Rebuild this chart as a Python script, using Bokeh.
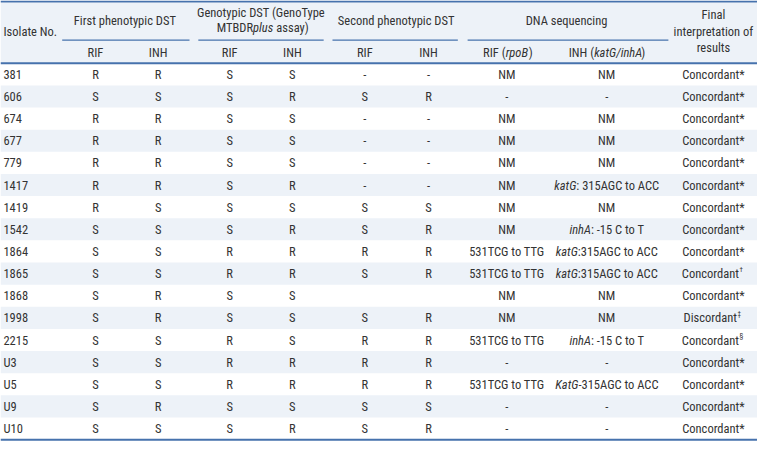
from bokeh.plotting import figure
from bokeh.models import Range1d, ColumnDataSource
from bokeh.core.properties import value
from bokeh.embed import file_html
from bokeh.resources import INLINE

# ---------------- data ----------------
isolates = ["381", "606", "674", "677", "779", "1417", "1419", "1542", "1864",
            "1865", "1868", "1998", "2215", "U3", "U5", "U9", "U10"]
first_rif = ["R", "S", "R", "R", "R", "R", "R", "S", "S", "S", "S", "S", "S", "S", "S", "S", "S"]
first_inh = ["R", "S", "R", "R", "R", "R", "S", "S", "S", "S", "R", "R", "S", "S", "S", "R", "S"]
geno_rif = ["S", "S", "S", "S", "S", "S", "S", "S", "R", "R", "S", "S", "R", "R", "R", "S", "S"]
geno_inh = ["S", "R", "S", "S", "S", "R", "S", "R", "R", "R", "S", "S", "S", "R", "R", "S", "R"]
second_rif = ["-", "S", "-", "-", "-", "-", "S", "S", "R", "S", "", "S", "R", "R", "R", "S", "S"]
second_inh = ["-", "R", "-", "-", "-", "-", "S", "R", "R", "R", "", "R", "R", "R", "R", "S", "R"]
dna_rif = ["NM", "-", "NM", "NM", "NM", "NM", "NM", "NM", "531TCG to TTG", "531TCG to TTG",
           "NM", "NM", "531TCG to TTG", "-", "531TCG to TTG", "-", "-"]
dna_inh_gene = ["", "", "", "", "", "katG", "", "inhA", "katG", "katG", "", "", "inhA", "", "KatG", "", ""]
dna_inh_rest = ["NM", "-", "NM", "NM", "NM", ": 315AGC to ACC", "NM", ": -15 C to T",
                ":315AGC to ACC", ":315AGC to ACC", "NM", "NM", ": -15 C to T", "-",
                "-315AGC to ACC", "-", "-"]
final_text = ["Concordant*"] * 9 + ["Concordant", "Concordant*", "Discordant", "Concordant",
                                     "Concordant*", "Concordant*", "Concordant*", "Concordant*"]
final_mark = [""] * 9 + ["\u2020", "", "\u2021", "\u00a7", "", "", "", ""]

header_isolate = "Isolate No."
group_labels = ["First phenotypic DST", "Genotypic DST (GenoType", "Second phenotypic DST",
                "DNA sequencing"]
final_header = ["Final", "interpretation of", "results"]
sub_simple = ["RIF", "INH", "RIF", "INH", "RIF", "INH"]

# ---------------- layout (reference pixel space) ----------------
W_REF, H_REF = 773, 459
FIG_W, FIG_H = 757, 443
SX = FIG_W / W_REF
FONT = "Roboto Condensed, DejaVu Sans Condensed, Roboto"
FS = 12.5
WF = 0.84  # width factor relative to Arial metrics
TXT = "#333333"
LINE = "#4672ad"
SHADE = "#edf2f8"

col_iso = 3
col_centers = [97, 161, 234, 298, 372, 437]
col_drif, col_dinh, col_final = 517, 619, 728
group_start = [63, 202, 339, 477]
group_end = [193, 330, 467, 682]
group_center = [127, 266, 404, 578]
y_top, y_under, y_head, y_bottom = 1, 41, 65, 455
n = len(isolates)
row_h = (y_bottom - y_head) / n
row_y = [y_head + row_h * (i + 0.5) for i in range(n)]

_w = {' ': 278, '!': 278, '(': 333, ')': 333, '*': 389, '-': 333, '.': 278, '/': 278, ':': 278,
      'A': 667, 'B': 667, 'C': 722, 'D': 722, 'E': 667, 'F': 611, 'G': 778, 'H': 722, 'I': 278,
      'K': 667, 'L': 556, 'M': 833, 'N': 722, 'O': 778, 'P': 667, 'R': 722, 'S': 667, 'T': 611,
      'U': 722, 'Y': 667, 'a': 556, 'b': 556, 'c': 500, 'd': 556, 'e': 556, 'g': 556, 'h': 556,
      'i': 222, 'k': 500, 'l': 222, 'n': 556, 'o': 556, 'p': 556, 'r': 333, 's': 500, 't': 278,
      'u': 556, 'y': 500, 'v': 500}


def tw(s, fs=FS):
    px = sum(_w.get(c, 556) for c in s) / 1000.0 * WF * fs
    return px / SX


norm = dict(x=[], y=[], text=[], align=[])
ital = dict(x=[], y=[], text=[], align=[])
sup = dict(x=[], y=[], text=[])


def put(d, x, y, t, align="center"):
    if t == "":
        return
    d["x"].append(x); d["y"].append(y); d["text"].append(t); d["align"].append(align)


def rich(pieces, cx, y):
    """pieces: first (right-aligned at split), middle (left at split), optional last."""
    total = sum(tw(s) for s, _ in pieces)
    split = cx - total / 2 + tw(pieces[0][0])
    put(ital if pieces[0][1] else norm, split, y, pieces[0][0].strip(), "right")
    put(ital if pieces[1][1] else norm, split, y, pieces[1][0].strip(), "left")
    if len(pieces) > 2:
        s = pieces[2][0]
        lead = len(s) - len(s.lstrip())
        put(ital if pieces[2][1] else norm, split + tw(pieces[1][0]) + tw(s[:lead]) + 1,
            y, s.strip(), "left")


# header texts
put(norm, col_iso, 32, header_isolate, "left")
put(norm, group_center[0], 21, group_labels[0])
put(norm, group_center[1], 12, group_labels[1])
rich([("MTBDR", False), ("plus", True), (" assay)", False)], group_center[1], 28)
put(norm, group_center[2], 21, group_labels[2])
put(norm, group_center[3], 21, group_labels[3])
for t, yy in zip(final_header, [15, 32, 49]):
    put(norm, col_final, yy, t)
for t, cx in zip(sub_simple, col_centers):
    put(norm, cx, 54, t)
rich([("RIF (", False), ("rpoB", True), (")", False)], col_drif, 54)
rich([("INH (", False), ("katG/inhA", True), (")", False)], col_dinh, 54)

# body
for i in range(n):
    y = row_y[i]
    put(norm, col_iso, y, isolates[i], "left")
    for cx, arr in zip(col_centers, [first_rif, first_inh, geno_rif, geno_inh, second_rif, second_inh]):
        put(norm, cx, y, arr[i])
    put(norm, col_drif, y, dna_rif[i])
    if dna_inh_gene[i]:
        rich([(dna_inh_gene[i], True), (dna_inh_rest[i], False)], col_dinh, y)
    else:
        put(norm, col_dinh, y, dna_inh_rest[i])
    if final_mark[i]:
        bw = tw(final_text[i]); mw = tw(final_mark[i], 7)
        xr = col_final + (bw - mw) / 2
        put(norm, xr, y, final_text[i], "right")
        sup["x"].append(xr + 0.5); sup["y"].append(y - 4); sup["text"].append(final_mark[i])
    else:
        put(norm, col_final, y, final_text[i])

# ---------------- figure ----------------
p = figure(width=FIG_W, height=FIG_H, x_range=Range1d(0, W_REF), y_range=Range1d(H_REF, 0),
           output_backend="svg", toolbar_location=None, min_border=0,
           x_axis_location=None, y_axis_location=None)
p.grid.visible = False
p.outline_line_color = None
p.background_fill_color = "white"
p.border_fill_color = "white"

shade_top = [y_top + 1] + [y_head + row_h * i for i in range(n) if i % 2 == 1]
shade_bot = [y_head] + [y_head + row_h * (i + 1) for i in range(n) if i % 2 == 1]
p.quad(left=0, right=W_REF, top=shade_top, bottom=shade_bot, fill_color=SHADE, line_color=None)

p.segment(x0=[0, 0, 0], x1=[W_REF] * 3, y0=[y_top, y_head, y_bottom], y1=[y_top, y_head, y_bottom],
          line_color=LINE, line_width=2)
p.segment(x0=group_start, x1=group_end, y0=[y_under] * 4, y1=[y_under] * 4,
          line_color=LINE, line_width=1.3)

p.text(x="x", y="y", text="text", text_align="align", source=ColumnDataSource(norm),
       text_font=value(FONT), text_font_size=f"{FS}px", text_baseline="middle", text_color=TXT)
p.text(x="x", y="y", text="text", text_align="align", source=ColumnDataSource(ital),
       text_font=value(FONT), text_font_size=f"{FS}px", text_font_style="italic",
       text_baseline="middle", text_color=TXT)
p.text(x="x", y="y", text="text", source=ColumnDataSource(sup),
       text_font=value(FONT), text_font_size="7px", text_align="left",
       text_baseline="middle", text_color=TXT)

open("out.html", "w").write(file_html(p, INLINE))
